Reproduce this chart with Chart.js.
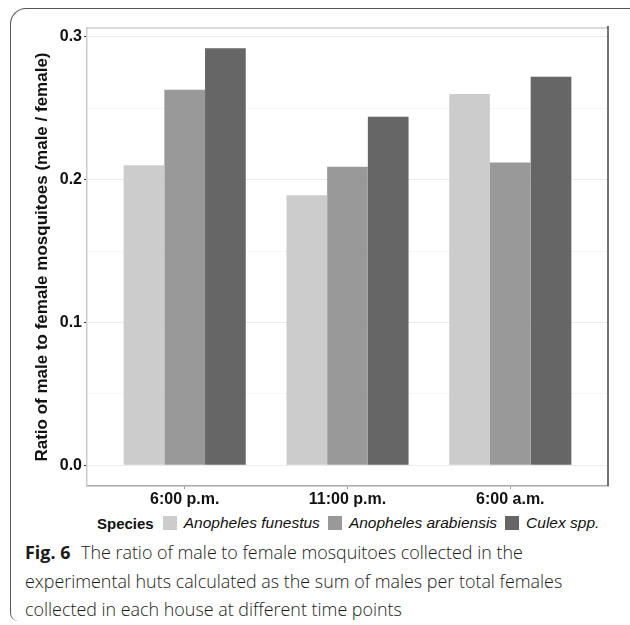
<!DOCTYPE html>
<html lang="en">
<head>
<meta charset="utf-8">
<title>Ratio of male to female mosquitoes</title>
<script src="https://cdn.jsdelivr.net/npm/chart.js@4/dist/chart.umd.min.js"></script>
<style>
  html, body { margin: 0; padding: 0; background: #fff; }
  #page { position: relative; width: 630px; height: 625px; overflow: hidden; }
  #frame {
    position: absolute; left: 10px; top: 8px; width: 630px; height: 613px;
    border-top: 1.5px solid #555; border-left: 1.5px solid #555;
    border-top-left-radius: 16px; border-bottom-left-radius: 8px;
    box-sizing: border-box;
  }
  #wrap { position: absolute; left: 0; top: 0; width: 630px; height: 510px; }
  #legend {
    position: absolute; left: 97px; top: 514px; height: 18px;
    display: flex; align-items: center;
    font-family: "Liberation Sans", Arial, sans-serif; font-size: 15.5px; color: #111;
  }
  #legend .ttl { font-weight: bold; font-size: 15px; margin-right: 9px; }
  #legend .sw { width: 14px; height: 14px; margin-right: 7px; }
  #legend .lb { font-style: italic; margin-right: 8px; }
  #caption {
    position: absolute; left: 25px; top: 538px;
    font-family: "Open Sans", sans-serif; font-size: 17.9px; font-weight: 300; line-height: 28.5px;
    color: #1a1a1a; white-space: nowrap;
  }
  #caption b { font-weight: bold; margin-right: 6px; }
</style>
</head>
<body>
<div id="page">
  <div id="frame"></div>
  <div id="wrap"><canvas id="myChart" width="630" height="510"></canvas></div>
  <div id="legend"></div>
  <div id="caption">
    <b>Fig. 6</b> The ratio of male to female mosquitoes collected in the<br>
    experimental huts calculated as the sum of males per total females<br>
    collected in each house at different time points
  </div>
</div>
<script>
  // data
  var times = ['6:00 p.m.', '11:00 p.m.', '6:00 a.m.'];
  var species = ['Anopheles funestus', 'Anopheles arabiensis', 'Culex spp.'];
  var funestus = [0.210, 0.189, 0.260];
  var arabiensis = [0.263, 0.209, 0.212];
  var culex = [0.292, 0.244, 0.272];
  var yTicks = [0, 0.1, 0.2, 0.3];
  var yMinor = [0.05, 0.15, 0.25];

  var colors = ['#cccccc', '#999999', '#666666'];
  var series = [funestus, arabiensis, culex];

  function toPoints(arr) {
    return arr.map(function(v, i) { return {x: i + 1, y: v}; });
  }

  var datasets = [];
  for (var i = 0; i < species.length; i++) {
    datasets.push({
      label: species[i],
      data: toPoints(series[i]),
      backgroundColor: colors[i],
      borderWidth: 0,
      categoryPercentage: 0.75,
      barPercentage: 1.0
    });
  }

  // top and right panel edges
  var panelEdges = {
    id: 'panelEdges',
    afterDraw: function(chart) {
      var a = chart.chartArea, c = chart.ctx;
      c.save();
      c.lineWidth = 1.5;
      c.strokeStyle = '#cccccc';
      c.beginPath(); c.moveTo(a.left, a.top); c.lineTo(a.right, a.top); c.stroke();
      c.strokeStyle = '#444444';
      c.beginPath(); c.moveTo(a.right, a.top - 2); c.lineTo(a.right, a.bottom); c.stroke();
      c.restore();
    }
  };

  function isMinor(v) {
    return yMinor.some(function(m) { return Math.abs(m - v) < 1e-9; });
  }

  var ctx = document.getElementById('myChart').getContext('2d');
  var myChart = new Chart(ctx, {
    type: 'bar',
    data: { datasets: datasets },
    plugins: [panelEdges],
    options: {
      responsive: false,
      animation: false,
      layout: { padding: { left: 30, right: 22, top: 28, bottom: 0 } },
      plugins: { legend: { display: false }, tooltip: { enabled: false } },
      scales: {
        x: {
          type: 'linear',
          offset: false,
          min: 0.4,
          max: 3.6,
          afterBuildTicks: function(s) {
            s.ticks = times.map(function(t, i) { return {value: i + 1}; });
          },
          afterFit: function(s) { s.height = 24; },
          ticks: {
            color: '#111',
            padding: 1,
            maxRotation: 0,
            font: { family: 'Liberation Sans', size: 16, weight: 'bold' },
            callback: function(v) { return times[v - 1]; }
          },
          grid: { offset: false, drawOnChartArea: false, tickLength: 3, tickColor: '#999', lineWidth: 1 },
          border: { color: '#aaaaaa', width: 1.5 }
        },
        y: {
          min: -0.01458,
          max: 0.3062,
          afterBuildTicks: function(s) {
            s.ticks = yTicks.concat(yMinor).sort(function(a, b) { return a - b; })
              .map(function(v) { return {value: v}; });
          },
          afterFit: function(s) { s.width = 57; },
          ticks: {
            color: '#111',
            padding: 2,
            font: { family: 'Liberation Sans', size: 16, weight: 'bold' },
            callback: function(v) { return isMinor(v) ? '' : v.toFixed(1); }
          },
          grid: {
            tickLength: 3,
            color: function(c) { return c.tick && isMinor(c.tick.value) ? '#f6f6f6' : '#ebebeb'; },
            tickColor: function(c) { return c.tick && isMinor(c.tick.value) ? 'rgba(0,0,0,0)' : '#333'; }
          },
          border: { color: '#cccccc', width: 1.5 },
          title: {
            display: true,
            text: 'Ratio of male to female mosquitoes (male / female)',
            color: '#111',
            padding: { top: 2, bottom: 0 },
            font: { family: 'Liberation Sans', size: 17, weight: 'bold' }
          }
        }
      }
    }
  });

  // legend row built from the datasets
  var leg = document.getElementById('legend');
  var t = document.createElement('span');
  t.className = 'ttl'; t.textContent = 'Species';
  leg.appendChild(t);
  myChart.data.datasets.forEach(function(ds) {
    var sw = document.createElement('span');
    sw.className = 'sw'; sw.style.background = ds.backgroundColor;
    var lb = document.createElement('span');
    lb.className = 'lb'; lb.textContent = ds.label;
    leg.appendChild(sw); leg.appendChild(lb);
  });
</script>
</body>
</html>
